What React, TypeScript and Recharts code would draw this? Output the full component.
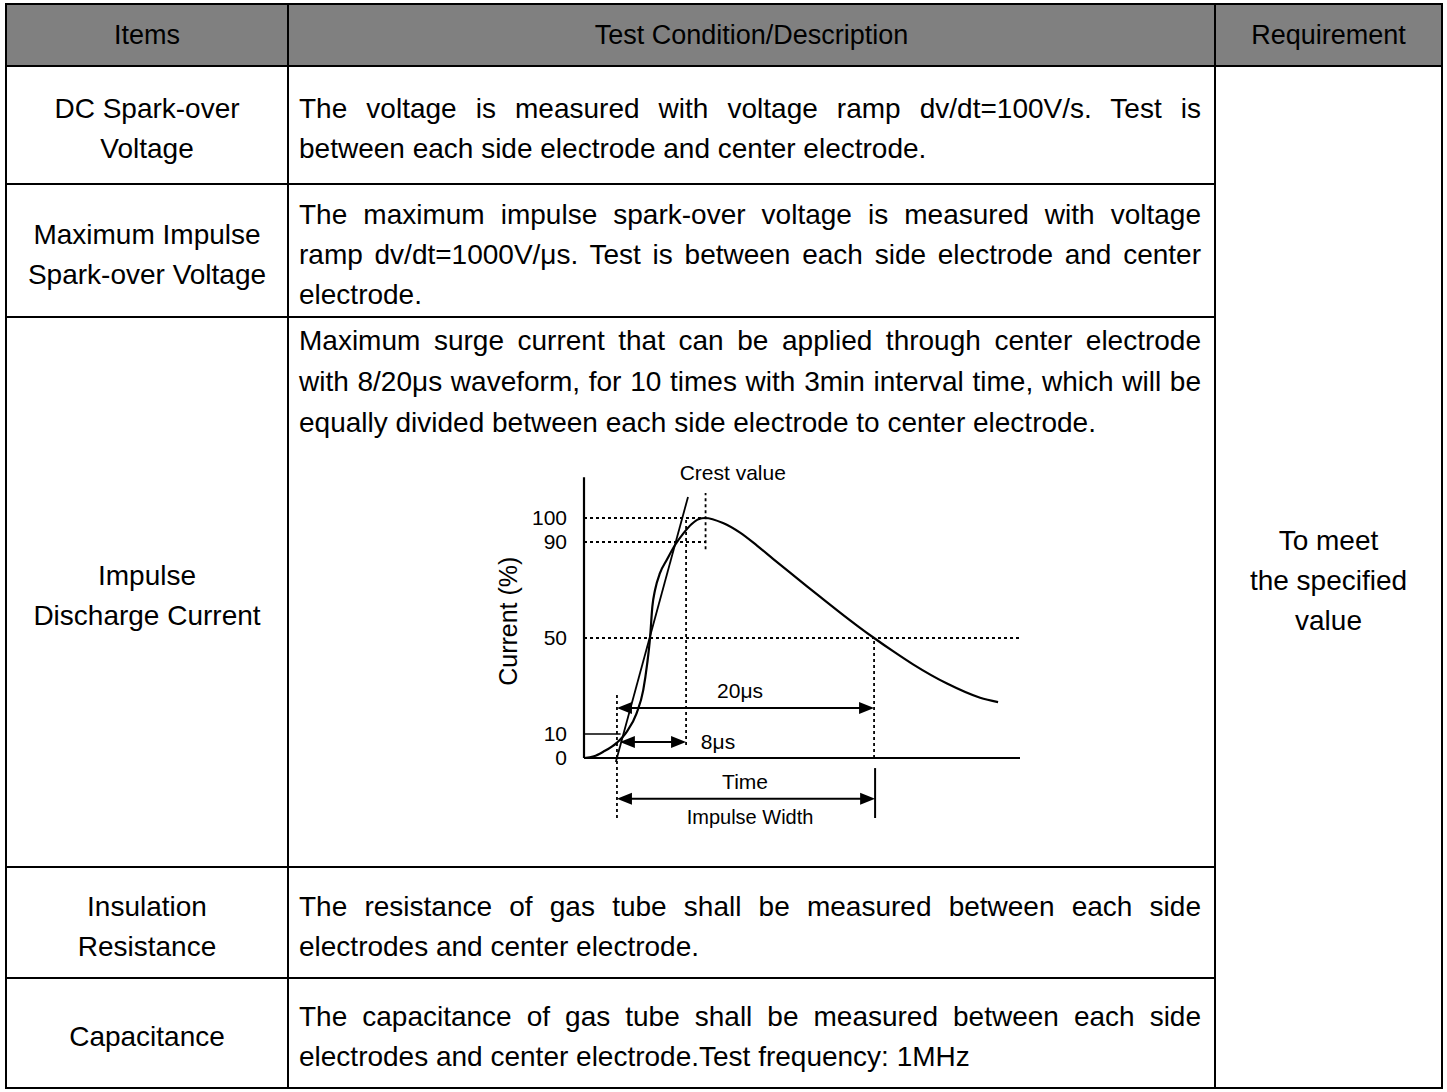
import React from 'react';
import { ComposedChart, Line, XAxis, YAxis, ReferenceLine, ReferenceDot } from 'recharts';

// ---------------- chart data (time in chart units, current in %) ----------------
const waveform = [
  { t: 0, i: 0 },
  { t: 0.78, i: 0.7 },
  { t: 1.5, i: 2.6 },
  { t: 2.55, i: 6.3 },
  { t: 3.33, i: 10.9 },
  { t: 4.1, i: 18.6 },
  { t: 4.62, i: 28.3 },
  { t: 4.93, i: 39.4 },
  { t: 5.15, i: 50 },
  { t: 5.33, i: 63.1 },
  { t: 5.54, i: 70 },
  { t: 5.93, i: 77.1 },
  { t: 6.45, i: 82.5 },
  { t: 7.1, i: 88.75 },
  { t: 7.75, i: 93.6 },
  { t: 8.4, i: 97.5 },
  { t: 8.92, i: 99.5 },
  { t: 9.44, i: 100 },
  { t: 10.84, i: 97.9 },
  { t: 12.17, i: 93.9 },
  { t: 13.49, i: 88.5 },
  { t: 14.74, i: 83.0 },
  { t: 16.07, i: 77.2 },
  { t: 17.39, i: 71.5 },
  { t: 18.64, i: 66.2 },
  { t: 19.97, i: 60.6 },
  { t: 21.29, i: 55.2 },
  { t: 22.62, i: 50 },
  { t: 24.1, i: 44.5 },
  { t: 25.66, i: 39.0 },
  { t: 28.31, i: 31.0 },
  { t: 30.89, i: 25.1 },
  { t: 32.29, i: 23.3 },
];
const frontTangent = [
  { t: 2.48, i: -1.7 },
  { t: 8.11, i: 108.75 },
];
const yTicks = [0, 10, 50, 90, 100];
const tDomain = [0, 34];
const iDomain = [-30, 120];
const axisTop = 117;
const crestT = 9.48;
const frontStartT = 2.57;
const frontEndT = 7.96;
const halfT = 22.62;
const widthEndT = 22.7;
const arrow20 = { from: 2.57, to: 22.62, at: 20.8 };
const arrow8 = { from: 2.8, to: 7.96, at: 6.7 };
const arrowWidth = { from: 2.57, to: 22.7, at: -17 };
const chartLabels = [
  { t: 11.6, i: 118.75, text: 'Crest value', size: 21 },
  { t: 12.17, i: 28.3, text: '20μs', size: 21 },
  { t: 10.45, i: 6.7, text: '8μs', size: 21 },
  { t: 12.56, i: -10, text: 'Time', size: 21 },
  { t: 12.95, i: -24.6, text: 'Impulse Width', size: 20 },
];

// ---------------- table text ----------------
const FONT = '"Liberation Sans", Arial, Helvetica, sans-serif';
const headers = ['Items', 'Test Condition/Description', 'Requirement'];
const rows = [
  {
    top: 66, bottom: 184, item: ['DC Spark-over', 'Voltage'], textTop: null as number | null,
    lines: ['The voltage is measured with voltage ramp dv/dt=100V/s. Test is', 'between each side electrode and center electrode.'],
  },
  {
    top: 184, bottom: 317, item: ['Maximum Impulse', 'Spark-over Voltage'], textTop: null,
    lines: ['The maximum impulse spark-over voltage is measured with voltage', 'ramp dv/dt=1000V/μs. Test is between each side electrode and center', 'electrode.'],
  },
  {
    top: 317, bottom: 867, item: ['Impulse', 'Discharge Current'], textTop: 321,
    lines: ['Maximum surge current that can be applied through center electrode', 'with 8/20μs waveform, for 10 times with 3min interval time, which will be', 'equally divided between each side electrode to center electrode.'],
  },
  {
    top: 867, bottom: 978, item: ['Insulation', 'Resistance'], textTop: null,
    lines: ['The resistance of gas tube shall be measured between each side', 'electrodes and center electrode.'],
  },
  {
    top: 978, bottom: 1088, item: ['Capacitance'], textTop: null,
    lines: ['The capacitance of gas tube shall be measured between each side', 'electrodes and center electrode.Test frequency: 1MHz'],
  },
];
const requirement = ['To meet', 'the specified', 'value'];

const LEFT = 6, COL1 = 288, COL2 = 1215, RIGHT = 1442, TOP = 4, HEAD = 66, BOTTOM = 1088;
const LH = 40;
const FS = 28;
const SHIFT = 4;

const HLine = ({ y, x1, x2 }: { y: number; x1: number; x2: number }) => (
  <div style={{ position: 'absolute', left: x1 - 1, top: y - 1, width: x2 - x1 + 2, height: 2, background: '#000' }} />
);
const VLine = ({ x, y1, y2 }: { x: number; y1: number; y2: number }) => (
  <div style={{ position: 'absolute', left: x - 1, top: y1 - 1, width: 2, height: y2 - y1 + 2, background: '#000' }} />
);

const CenterCell = ({ x1, x2, y1, y2, lines, size = FS, shift = SHIFT }: { x1: number; x2: number; y1: number; y2: number; lines: string[]; size?: number; shift?: number }) => (
  <div style={{ position: 'absolute', left: x1, top: y1 + shift, width: x2 - x1, height: y2 - y1, display: 'flex', flexDirection: 'column', justifyContent: 'center', alignItems: 'center', fontSize: size, lineHeight: `${LH}px`, textAlign: 'center', whiteSpace: 'nowrap' }}>
    {lines.map((l, k) => <div key={k}>{l}</div>)}
  </div>
);

const DoubleArrow = (p: any) => {
  const { x1, y1, x2, y2 } = p;
  const L = 15, H = 6;
  return (
    <g>
      <line x1={x1 + 8} y1={y1} x2={x2 - 8} y2={y2} stroke="#000" strokeWidth={2} />
      <polygon points={`${x1},${y1} ${x1 + L},${y1 - H} ${x1 + L},${y1 + H}`} fill="#000" />
      <polygon points={`${x2},${y2} ${x2 - L},${y2 - H} ${x2 - L},${y2 + H}`} fill="#000" />
    </g>
  );
};

const dash = { stroke: '#000', strokeWidth: 1.8, strokeDasharray: '3 3', ifOverflow: 'visible' as const };
const solid = { stroke: '#000', ifOverflow: 'visible' as const };

const WaveChart = () => (
  <div style={{ position: 'absolute', left: 480, top: 450 }}>
    <ComposedChart width={560} height={390} margin={{ top: 20, right: 20, bottom: 10, left: 0 }}>
      <XAxis type="number" dataKey="t" domain={tDomain} hide allowDataOverflow />
      <YAxis
        type="number"
        domain={iDomain}
        ticks={yTicks}
        interval={0}
        allowDataOverflow
        axisLine={false}
        tickLine={false}
        tickSize={0}
        tickMargin={17}
        width={104}
        tick={{ fill: '#000', fontSize: 21, fontFamily: FONT }}
        label={(props: any) => {
          const vb = props.viewBox || {};
          const x = (vb.x ?? 0) + 28;
          const y = (vb.y ?? 0) + (vb.height ?? 0) * 0.42;
          return (
            <text x={x} y={y} transform={`rotate(-90 ${x} ${y})`} textAnchor="middle" dominantBaseline="central" fontSize={25} fill="#000" fontFamily={FONT}>
              Current (%)
            </text>
          );
        }}
      />
      {/* axes */}
      <ReferenceLine segment={[{ x: 0, y: 0 }, { x: 0, y: axisTop }]} {...solid} strokeWidth={2.2} />
      <ReferenceLine segment={[{ x: 0, y: 0 }, { x: tDomain[1], y: 0 }]} {...solid} strokeWidth={2.2} />
      {/* level guides */}
      <ReferenceLine segment={[{ x: 0, y: 100 }, { x: crestT, y: 100 }]} {...dash} />
      <ReferenceLine segment={[{ x: 0, y: 90 }, { x: crestT, y: 90 }]} {...dash} />
      <ReferenceLine segment={[{ x: 0, y: 50 }, { x: tDomain[1], y: 50 }]} {...dash} />
      <ReferenceLine segment={[{ x: 0, y: 10 }, { x: 2.85, y: 10 }]} {...solid} strokeWidth={1.6} />
      {/* time guides */}
      <ReferenceLine segment={[{ x: crestT, y: 87 }, { x: crestT, y: 110.4 }]} {...dash} />
      <ReferenceLine segment={[{ x: frontEndT, y: 5.4 }, { x: frontEndT, y: 100 }]} {...dash} />
      <ReferenceLine segment={[{ x: frontStartT, y: -25 }, { x: frontStartT, y: 27 }]} {...dash} />
      <ReferenceLine segment={[{ x: halfT, y: 0 }, { x: halfT, y: 50 }]} {...dash} />
      <ReferenceLine segment={[{ x: widthEndT, y: -4.2 }, { x: widthEndT, y: -25 }]} {...solid} strokeWidth={2} />
      {/* arrows */}
      <ReferenceLine segment={[{ x: arrow20.from, y: arrow20.at }, { x: arrow20.to, y: arrow20.at }]} ifOverflow="visible" shape={DoubleArrow} />
      <ReferenceLine segment={[{ x: arrow8.from, y: arrow8.at }, { x: arrow8.to, y: arrow8.at }]} ifOverflow="visible" shape={DoubleArrow} />
      <ReferenceLine segment={[{ x: arrowWidth.from, y: arrowWidth.at }, { x: arrowWidth.to, y: arrowWidth.at }]} ifOverflow="visible" shape={DoubleArrow} />
      {/* series */}
      <Line data={frontTangent} dataKey="i" type="linear" stroke="#000" strokeWidth={1.8} dot={false} activeDot={false} isAnimationActive={false} />
      <Line data={waveform} dataKey="i" type="monotone" stroke="#000" strokeWidth={2.2} dot={false} activeDot={false} isAnimationActive={false} />
      {/* labels */}
      {chartLabels.map((l) => (
        <ReferenceDot
          key={l.text}
          x={l.t}
          y={l.i}
          r={1}
          fillOpacity={0}
          strokeOpacity={0}
          ifOverflow="visible"
          label={{ value: l.text, position: 'center', fill: '#000', fontSize: l.size, fontFamily: FONT }}
        />
      ))}
    </ComposedChart>
  </div>
);

export default function App() {
  return (
    <div style={{ position: 'absolute', left: 0, top: 0, width: 1447, height: 1092, background: '#fff', fontFamily: FONT, color: '#000', overflow: 'hidden' }}>
      {/* header background */}
      <div style={{ position: 'absolute', left: LEFT, top: TOP, width: RIGHT - LEFT, height: HEAD - TOP, background: '#808080' }} />
      <CenterCell x1={LEFT} x2={COL1} y1={TOP} y2={HEAD} lines={[headers[0]]} size={27} shift={0} />
      <CenterCell x1={COL1} x2={COL2} y1={TOP} y2={HEAD} lines={[headers[1]]} size={27} shift={0} />
      <CenterCell x1={COL2} x2={RIGHT} y1={TOP} y2={HEAD} lines={[headers[2]]} size={27} shift={0} />

      {rows.map((r, ri) => {
        const n = r.lines.length;
        const startTop = r.textTop != null ? r.textTop : (r.top + r.bottom) / 2 - (n * LH) / 2 + SHIFT;
        return (
          <React.Fragment key={ri}>
            <CenterCell x1={LEFT} x2={COL1} y1={r.top} y2={r.bottom} lines={r.item} />
            {r.lines.map((l, li) => (
              <div
                key={li}
                style={{
                  position: 'absolute',
                  left: COL1 + 11,
                  width: COL2 - COL1 - 25,
                  top: startTop + li * (r.textTop != null ? 41 : LH),
                  height: LH,
                  lineHeight: `${LH}px`,
                  fontSize: FS,
                  whiteSpace: 'nowrap',
                  textAlign: li < n - 1 ? 'justify' : 'left',
                  textAlignLast: li < n - 1 ? 'justify' : 'left',
                } as React.CSSProperties}
              >
                {l}
              </div>
            ))}
          </React.Fragment>
        );
      })}

      <CenterCell x1={COL2} x2={RIGHT} y1={HEAD} y2={BOTTOM} lines={requirement} />

      <WaveChart />

      {/* borders */}
      <HLine y={TOP} x1={LEFT} x2={RIGHT} />
      <HLine y={HEAD} x1={LEFT} x2={RIGHT} />
      {rows.slice(0, -1).map((r, k) => <HLine key={k} y={r.bottom} x1={LEFT} x2={COL2} />)}
      <HLine y={BOTTOM} x1={LEFT} x2={RIGHT} />
      <VLine x={LEFT} y1={TOP} y2={BOTTOM} />
      <VLine x={COL1} y1={TOP} y2={BOTTOM} />
      <VLine x={COL2} y1={TOP} y2={BOTTOM} />
      <VLine x={RIGHT} y1={TOP} y2={BOTTOM} />
    </div>
  );
}
